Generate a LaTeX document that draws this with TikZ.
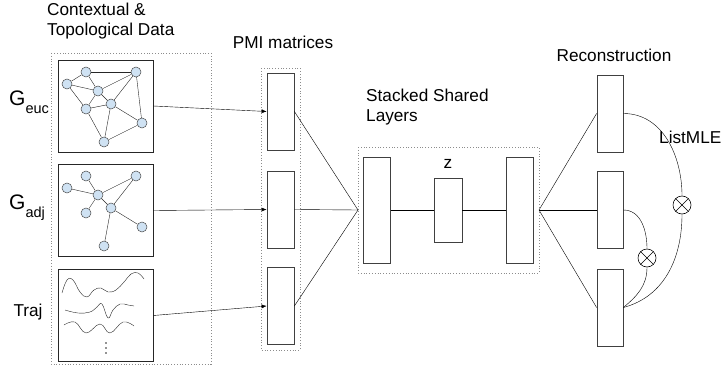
\documentclass[tikz,border=0pt]{standalone}
\usepackage{fontspec}
\setmainfont{Liberation Sans}
\usetikzlibrary{arrows.meta}
\definecolor{vtxblue}{HTML}{CFE2F3}

\begin{document}
\begin{tikzpicture}[x=1pt, y=-1pt, >={Latex[length=5pt,width=4pt]},
	every node/.style={font=\fontsize{17.2}{20}\selectfont},
	layer/.style={draw=black!75, line width=0.8pt, minimum width=27pt, inner sep=0pt},
	panel/.style={draw=black!85, line width=0.8pt, minimum width=95pt, minimum height=92pt, inner sep=0pt},
	group/.style={draw=black!45, dotted, line width=0.8pt},
	vtx/.style={circle, draw=black!70, fill=vtxblue, minimum size=10pt, inner sep=0pt, line width=0.5pt},
	otimes/.style={circle, draw, minimum size=18pt, inner sep=0pt, line width=0.6pt},
	sub/.style={anchor=base west, inner sep=0pt}]
	\useasboundingbox (0,0) rectangle (722,369);
	% dotted groups
	\draw[group] (51,53) rectangle (211,364);
	\draw[group] (261,68) rectangle (300,350);
	\draw[group] (358,147) rectangle (539,273);
	% titles
	\node[anchor=north west, align=left, inner sep=0pt] (ctx) at (47,3) {Contextual \&\\Topological Data};
	\node (pmit) at (283,42) {PMI matrices};
	\node[anchor=west, align=left, inner sep=0pt] (sst) at (366,107) {Stacked Shared\\Layers};
	\node (rect) at (614,55) {Reconstruction};
	\node[anchor=west, inner sep=0pt] (lmle) at (659,137) {ListMLE};
	% inputs
	\node[sub] (leuc) at (9,105) {\fontsize{21}{21}\selectfont G\raisebox{-8pt}{\fontsize{14.5}{14.5}\selectfont euc}};
	\node[sub] (ladj) at (9,209) {\fontsize{21}{21}\selectfont G\raisebox{-8pt}{\fontsize{14.5}{14.5}\selectfont adj}};
	\node (ltraj) at (28,312) {Traj};
	\node[panel] (euc) at (105.5,106) {};
	\node[panel] (adj) at (105.5,210.5) {};
	\node[panel] (traj) at (105.5,315.5) {};
	% graphs
	\foreach \g/\dy in {e/0, a/104} {
		\foreach \n/\x/\y in {1/86/72, 2/136/72, 3/67/84, 4/98/91, 5/111/104, 6/86/109, 7/142/123, 8/104/142}
			\node[vtx] (\g\n) at (\x,\y+\dy) {};
	}
	\foreach \u/\v in {1/2, 1/3, 1/4, 3/4, 3/6, 4/2, 4/6, 4/5, 6/5, 5/2, 5/7, 5/8, 6/8, 2/7, 7/8}
		\draw[black!85] (e\u) -- (e\v);
	\foreach \u/\v in {1/4, 3/4, 4/2, 4/5, 4/6, 5/2, 5/7, 5/8}
		\draw[black!85] (a\u) -- (a\v);
	% trajectories
	\draw[black!85] plot[smooth, tension=0.7] coordinates {(62,293) (67,280) (73,280) (80,292) (87,297) (94,290) (101,288) (108,292) (116,290) (124,282) (131,274) (138,273) (144,279)};
	\draw[black!85] plot[smooth, tension=0.7] coordinates {(65,310) (78,313) (90,312) (97,307) (102,304) (108,318) (113,310) (120,304) (128,305) (134,306)};
	\draw[black!85] plot[smooth, tension=0.7] coordinates {(64,325) (75,322) (86,333) (100,324) (110,333) (123,322) (134,326)};
	\foreach \y in {343,348,353}
		\fill[black!85] (106,\y) circle (0.9);
	% PMI matrices
	\node[layer, minimum height=77pt] (pmi1) at (280.5,111.5) {};
	\node[layer, minimum height=77pt] (pmi2) at (280.5,209.5) {};
	\node[layer, minimum height=77pt] (pmi3) at (280.5,306) {};
	\draw[->] (euc.east) -- (pmi1.west);
	\draw[->] (adj.east) -- (pmi2.west);
	\draw[->] (traj.east) -- (pmi3.west);
	% shared layers
	\coordinate (cin) at (358,210);
	\coordinate (cout) at (539,210);
	\node[layer, minimum height=106pt] (enc) at (377,210) {};
	\node[layer, minimum width=28pt, minimum height=64pt] (zl) at (448,210) {};
	\node[layer, minimum height=106pt] (dec) at (519.5,210) {};
	\node (zt) at (448,164) {z};
	\foreach \i in {1,2,3}
		\draw (pmi\i.east) -- (cin);
	\draw (enc.east) -- (zl.west);
	\draw (zl.east) -- (dec.west);
	% reconstruction
	\node[layer, minimum width=26pt, minimum height=77pt] (rec1) at (610,113.5) {};
	\node[layer, minimum width=26pt, minimum height=77pt] (rec2) at (610,210) {};
	\node[layer, minimum width=26pt, minimum height=77pt] (rec3) at (610,307.5) {};
	\foreach \i in {1,2,3}
		\draw (cout) -- (rec\i.west);
	\node[otimes] (m1) at (682,205) {};
	\node[otimes] (m2) at (647,258) {};
	\foreach \m in {m1,m2} {
		\draw (\m.north west) -- (\m.south east);
		\draw (\m.north east) -- (\m.south west);
	}
	\draw (rec1.east) to[out=0, in=90] (m1.north);
	\draw (m1.south) to[out=-90, in=15] (rec3.east);
	\draw (rec2.east) to[out=0, in=90] (m2.north);
	\draw (m2.south) to[out=-90, in=40] (rec3.east);
\end{tikzpicture}
\end{document}
